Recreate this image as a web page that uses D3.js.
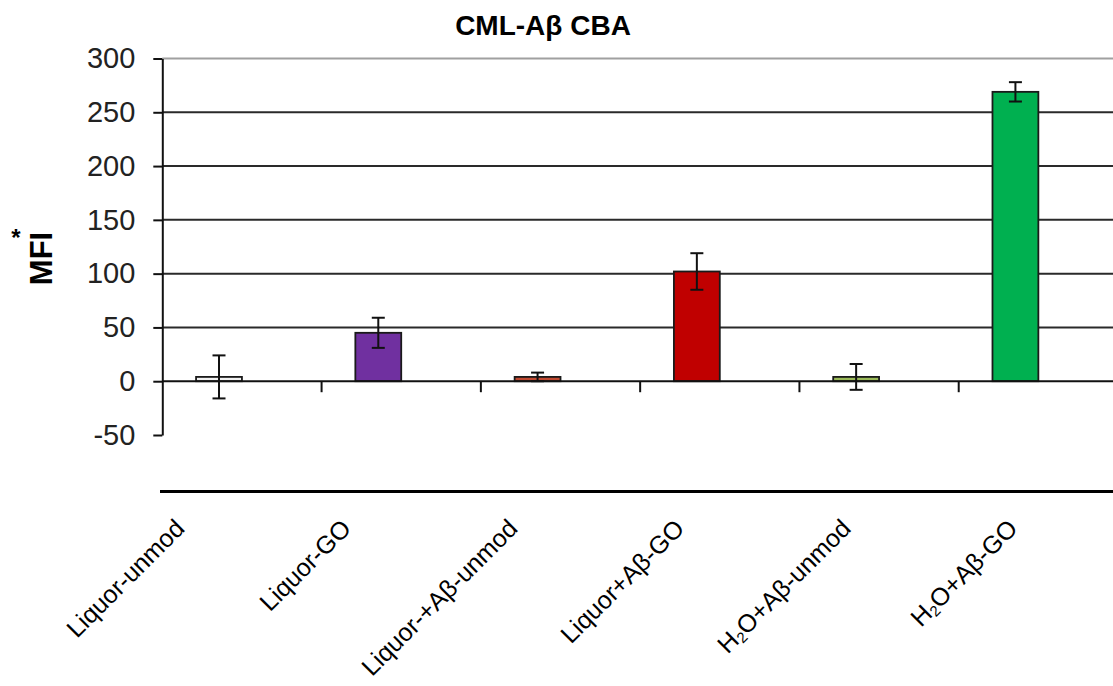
<!DOCTYPE html>
<html>
<head>
<meta charset="utf-8">
<script src="https://cdn.jsdelivr.net/npm/d3@7"></script>
<style>
  html, body { margin: 0; padding: 0; background: #fff; }
  svg { display: block; font-family: "Liberation Sans", Arial, sans-serif; }
</style>
</head>
<body>
<svg id="chart" width="1113" height="686"></svg>
<script>
// Samples (x labels); "H2O" gets a subscript 2 when drawn
const categories = ["Liquor-unmod", "Liquor-GO", "Liquor-+Aβ-unmod", "Liquor+Aβ-GO", "H2O+Aβ-unmod", "H2O+Aβ-GO"];
// Mean fluorescence intensity per sample
const mfiValues = [4, 45, 4, 102, 4, 269];
// Error bar half-widths
const mfiErrors = [20, 14, 4, 17, 12, 9];
// Y axis ticks
const yTicks = [-50, 0, 50, 100, 150, 200, 250, 300];
const gridTicks = [50, 100, 150, 200, 250, 300];
// Bar fills
const barColors = ["#f1f1f1", "#7030a0", "#c24a32", "#c00000", "#9bbb59", "#00b050"];

const svg = d3.select("#chart");

const y = d3.scaleLinear().domain([-50, 300]).range([435, 58.5]);
const x = d3.scaleBand().domain(categories).range([162.3, 1118]).padding(0);
const bw = x.bandwidth();
const labelPos = d3.scalePoint().domain(categories).range([186, 1019]);

const plotLeft = 162.3, plotRight = 1113;

// Horizontal gridlines
svg.append("g").selectAll("line").data(gridTicks).join("line")
  .attr("x1", plotLeft).attr("x2", plotRight)
  .attr("y1", d => y(d)).attr("y2", d => y(d))
  .attr("stroke", d => d === 300 ? "#a0a0a0" : "#2a2a2a")
  .attr("stroke-width", 2);

// Y axis
const yAxis = d3.axisLeft(y).tickValues(yTicks).tickSize(9).tickSizeOuter(0).tickPadding(18)
  .tickFormat(d => String(d));
const gy = svg.append("g").attr("transform", `translate(${plotLeft},0)`).call(yAxis);
gy.select(".domain").attr("stroke", "#111").attr("stroke-width", 2);
gy.selectAll(".tick line").attr("stroke", "#111").attr("stroke-width", 2);
gy.selectAll(".tick text")
  .attr("font-size", 29).attr("fill", "#222")
  .attr("font-family", "Liberation Sans, Arial, sans-serif");

// Bars
const bars = svg.append("g");
bars.selectAll("rect").data(categories).join("rect")
  .attr("x", c => x(c) + bw * 0.212)
  .attr("width", bw * 0.288)
  .attr("y", (c, i) => y(Math.max(0, mfiValues[i])))
  .attr("height", (c, i) => Math.abs(y(mfiValues[i]) - y(0)))
  .attr("fill", (c, i) => barColors[i])
  .attr("stroke", "#1a1a1a")
  .attr("stroke-width", 1.8);

// Zero line and category ticks
svg.append("line")
  .attr("x1", plotLeft).attr("x2", plotRight)
  .attr("y1", y(0)).attr("y2", y(0))
  .attr("stroke", "#111").attr("stroke-width", 2);
svg.append("g").selectAll("line").data(categories.slice(1)).join("line")
  .attr("x1", c => x(c)).attr("x2", c => x(c))
  .attr("y1", y(0)).attr("y2", y(0) + 11)
  .attr("stroke", "#111").attr("stroke-width", 2);

// Error bars
const eg = svg.append("g").attr("stroke", "#111").attr("stroke-width", 2);
categories.forEach((c, i) => {
  const cx = x(c) + bw * 0.212 + bw * 0.144;
  const hi = y(mfiValues[i] + mfiErrors[i]);
  const lo = y(mfiValues[i] - mfiErrors[i]);
  eg.append("line").attr("x1", cx).attr("x2", cx).attr("y1", hi).attr("y2", lo);
  eg.append("line").attr("x1", cx - 6.5).attr("x2", cx + 6.5).attr("y1", hi).attr("y2", hi);
  eg.append("line").attr("x1", cx - 6.5).attr("x2", cx + 6.5).attr("y1", lo).attr("y2", lo);
});

// Baseline rule under the plot
svg.append("line")
  .attr("x1", 160).attr("x2", 1113)
  .attr("y1", 491.5).attr("y2", 491.5)
  .attr("stroke", "#000").attr("stroke-width", 3);

// Rotated category labels
const labels = svg.append("g").selectAll("text").data(categories).join("text")
  .attr("transform", c => `translate(${labelPos(c)},530) rotate(-45)`)
  .attr("text-anchor", "end")
  .attr("font-size", 25)
  .attr("fill", "#000");
labels.each(function(c) {
  const t = d3.select(this);
  if (c.startsWith("H2O")) {
    t.append("tspan").text("H");
    t.append("tspan").text("2").attr("font-size", 15).attr("dy", 3);
    t.append("tspan").text(c.slice(2)).attr("dy", -3);
  } else {
    t.text(c);
  }
});

// Title
svg.append("text")
  .attr("x", 543).attr("y", 35)
  .attr("text-anchor", "middle")
  .attr("font-size", 28).attr("font-weight", "bold")
  .text("CML-Aβ CBA");

// Y axis title
svg.append("text")
  .attr("transform", "translate(52,258.5) rotate(-90)")
  .attr("text-anchor", "middle")
  .attr("font-size", 31).attr("font-weight", "bold")
  .text("MFI");
svg.append("text")
  .attr("x", 16).attr("y", 246)
  .attr("text-anchor", "middle")
  .attr("font-size", 24).attr("font-weight", "bold")
  .text("*");
</script>
</body>
</html>
